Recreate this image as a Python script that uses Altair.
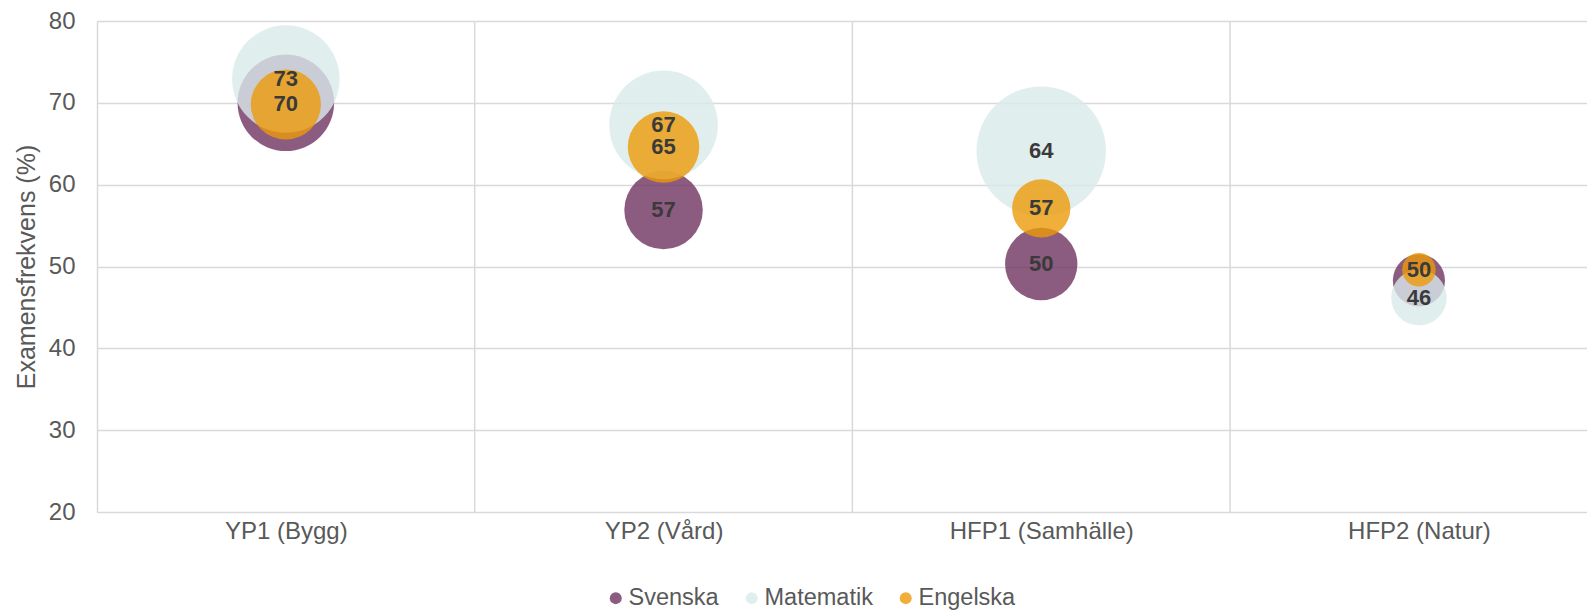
import json
import altair as alt
import pandas as pd

# ---- data ----
categories = ["YP1 (Bygg)", "YP2 (Vård)", "HFP1 (Samhälle)", "HFP2 (Natur)"]
subjects = ["Svenska", "Matematik", "Engelska"]

svenska = [70.0, 56.9, 50.3, 48.3]
matematik = [72.9, 67.3, 64.1, 46.2]
engelska = [69.8, 64.6, 57.1, 49.6]

# bubble size (relative units)
svenska_size = [233, 154, 131, 68]
matematik_size = [289, 295, 419, 77]
engelska_size = [123, 128, 85, 28]

# which data labels are visible (overlapping ones hidden in the original)
svenska_label = [False, True, True, False]
matematik_label = [True, True, True, True]
engelska_label = [True, True, True, True]

category_bounds = [1.5, 2.5, 3.5]
y_ticks = [20, 30, 40, 50, 60, 70, 80]

colors = ["#6F3360", "#D9EAEA", "#EC9A09"]

# ---- build table ----
rows = []
series = [
    ("Svenska", svenska, svenska_size, svenska_label),
    ("Matematik", matematik, matematik_size, matematik_label),
    ("Engelska", engelska, engelska_size, engelska_label),
]
for order, (name, vals, sizes, shows) in enumerate(series):
    for i, cat in enumerate(categories):
        rows.append({
            "x": i + 1,
            "category": cat,
            "subject": name,
            "value": vals[i],
            "size": sizes[i],
            "order": order,
            "show": shows[i],
        })
df = pd.DataFrame(rows)
bounds_df = pd.DataFrame({"b": category_bounds})

GRID = "#D9D9D9"
TXT = "#595959"

x_scale = alt.Scale(domain=[0.5, 4.445], nice=False, zero=False)
y_scale = alt.Scale(domain=[20, 80], nice=False, zero=False)

label_expr = json.dumps(categories) + "[datum.value - 1]"

x_enc = alt.X(
    "x:Q",
    scale=x_scale,
    axis=alt.Axis(
        values=[1, 2, 3, 4],
        labelExpr=label_expr,
        grid=False,
        ticks=False,
        domain=False,
        title=None,
        labelFontSize=24,
        labelColor=TXT,
        labelPadding=7,
        labelLimit=0,
    ),
)
y_enc = alt.Y(
    "value:Q",
    scale=y_scale,
    axis=alt.Axis(
        values=y_ticks,
        grid=True,
        gridColor=GRID,
        gridWidth=1.5,
        ticks=False,
        domain=True,
        domainColor=GRID,
        domainWidth=1.5,
        labelFontSize=24,
        labelColor=TXT,
        labelPadding=22,
        title="Examensfrekvens (%)",
        titleFontSize=25,
        titleFontWeight="normal",
        titleColor=TXT,
        titlePadding=9,
    ),
)

rules = alt.Chart(bounds_df).mark_rule(color=GRID, strokeWidth=1.5).encode(
    x=alt.X("b:Q", scale=x_scale)
)

bubbles = alt.Chart(df).mark_circle(opacity=0.8).encode(
    x=x_enc,
    y=y_enc,
    size=alt.Size(
        "size:Q",
        scale=alt.Scale(domain=[0, 419], range=[0, 16760]),
        legend=None,
    ),
    color=alt.Color(
        "subject:N",
        scale=alt.Scale(domain=subjects, range=colors),
        legend=alt.Legend(
            title=None,
            orient="none",
            legendX=507,
            legendY=565,
            direction="horizontal",
            symbolType="circle",
            symbolSize=144,
            symbolOpacity=0.8,
            labelFontSize=23.5,
            labelColor=TXT,
            columnPadding=21,
            symbolOffset=0,
            labelOffset=1,
        ),
    ),
    order=alt.Order("order:Q"),
)

labels = alt.Chart(df).transform_filter("datum.show").mark_text(
    fontWeight="bold", fontSize=22, color="#3A3A3A", baseline="middle"
).encode(
    x=alt.X("x:Q", scale=x_scale),
    y=alt.Y("value:Q", scale=y_scale),
    text=alt.Text("value:Q", format=".0f"),
)

chart = alt.layer(rules, bubbles, labels).properties(
    width=1490,
    height=491,
    padding={"left": 89, "top": 13, "right": 0, "bottom": 100},
    autosize="none",
).configure_view(stroke=None).configure(font="Liberation Sans")

chart.save("out.html", embed_options={"renderer": "svg", "actions": False})
